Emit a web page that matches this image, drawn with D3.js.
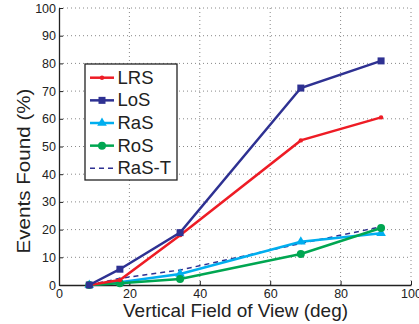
<!DOCTYPE html>
<html><head><meta charset="utf-8">
<script src="https://cdn.jsdelivr.net/npm/d3@7"></script>
<style>body{margin:0;background:#fff}svg{display:block}text{font-family:"Liberation Sans",Arial,sans-serif}</style>
</head><body><svg id="c" width="419" height="324"></svg>
<script>
const fov = [8.6, 17.3, 34.4, 68.7, 91.5];
const LRS = [0, 1.8, 18.0, 52.2, 60.5];
const LoS = [0, 5.7, 18.9, 71.1, 80.9];
const RaS = [0, 1.0, 4.0, 15.6, 18.7];
const RoS = [0, 0.6, 2.2, 11.2, 20.6];
const RaST = [0, 2.4, 5.4, 15.0, 21.0];
const xTicks = [0, 20, 40, 60, 80, 100];
const yTicks = [0, 10, 20, 30, 40, 50, 60, 70, 80, 90, 100];
const series = [
  {name: "LRS", vals: LRS, color: "#ee1c25", marker: "dot"},
  {name: "LoS", vals: LoS, color: "#2e3192", marker: "square"},
  {name: "RaS", vals: RaS, color: "#00aeef", marker: "triangle"},
  {name: "RoS", vals: RoS, color: "#00a651", marker: "circle"},
  {name: "RaS-T", vals: RaST, color: "#2e3192", marker: "none", dash: "5,4"}
];
const svg = d3.select("#c");
const L = 59, R = 411, T = 8, B = 285;
const x = d3.scaleLinear().domain([0, 100]).range([L, R]);
const y = d3.scaleLinear().domain([0, 100]).range([B, T]);

// grid
const g = svg.append("g");
xTicks.slice(1).forEach(t => g.append("line").attr("x1", x(t)).attr("x2", x(t)).attr("y1", B).attr("y2", T)
  .attr("stroke", "#888").attr("stroke-width", 1).attr("stroke-dasharray", "1,3"));
yTicks.slice(1).forEach(t => g.append("line").attr("x1", L).attr("x2", R).attr("y1", y(t)).attr("y2", y(t))
  .attr("stroke", "#888").attr("stroke-width", 1).attr("stroke-dasharray", "1,3"));

// axes
const xa = svg.append("g").attr("transform", `translate(0,${B})`)
  .call(d3.axisBottom(x).tickValues(xTicks).tickSizeInner(-4).tickSizeOuter(0).tickPadding(4));
const ya = svg.append("g").attr("transform", `translate(${L},0)`)
  .call(d3.axisLeft(y).tickValues(yTicks).tickSizeInner(-4).tickSizeOuter(0).tickPadding(3));
[xa, ya].forEach(a => {
  a.select(".domain").attr("stroke", "#222").attr("stroke-width", 1.3);
  a.selectAll(".tick line").attr("stroke", "#222");
  a.selectAll("text").attr("font-size", 12.5).attr("fill", "#222");
});
xa.selectAll("text").attr("y", 13).attr("dy", 0);
ya.selectAll("text").attr("x", -3);

// lines
const line = d3.line().x((d, i) => x(fov[i])).y(d => y(d));
function drawMarker(sel, m, cx, cy, color) {
  if (m === "dot") sel.append("circle").attr("cx", cx).attr("cy", cy).attr("r", 2.2).attr("fill", color);
  else if (m === "circle") sel.append("circle").attr("cx", cx).attr("cy", cy).attr("r", 4).attr("fill", color);
  else if (m === "square") sel.append("rect").attr("x", cx - 3.5).attr("y", cy - 3.5).attr("width", 7).attr("height", 7).attr("fill", color);
  else if (m === "triangle") sel.append("path").attr("d", d3.symbol().type(d3.symbolTriangle).size(40)()).attr("transform", `translate(${cx},${cy})`).attr("fill", color);
}
const order = [4, 2, 3, 0, 1];
order.forEach(k => {
  const s = series[k];
  const gg = svg.append("g");
  gg.append("path").datum(s.vals).attr("d", line).attr("fill", "none").attr("stroke", s.color)
    .attr("stroke-width", s.dash ? 1.5 : 2.5).attr("stroke-dasharray", s.dash || null);
  s.vals.forEach((v, i) => drawMarker(gg, s.marker, x(fov[i]), y(v), s.color));
});

// legend
const lg = svg.append("g");
lg.append("rect").attr("x", 85).attr("y", 64).attr("width", 92).attr("height", 116)
  .attr("fill", "#fff").attr("stroke", "#222").attr("stroke-width", 1.3);
series.forEach((s, i) => {
  const cy = 77.7 + i * 22.65;
  lg.append("line").attr("x1", 90).attr("x2", 114).attr("y1", cy).attr("y2", cy).attr("stroke", s.color)
    .attr("stroke-width", s.dash ? 1.5 : 2.5).attr("stroke-dasharray", s.dash || null);
  drawMarker(lg, s.marker, 102, cy, s.color);
  lg.append("text").attr("x", 117.5).attr("y", cy + 6).attr("font-size", 18.5).attr("fill", "#222").text(s.name);
});

// titles
svg.append("text").attr("x", 235.5).attr("y", 317).attr("text-anchor", "middle")
  .attr("font-size", 18.5).attr("fill", "#222").attr("textLength", 225).attr("lengthAdjust", "spacingAndGlyphs")
  .text("Vertical Field of View (deg)");
svg.append("text").attr("transform", `translate(29.5,171) rotate(-90)`).attr("text-anchor", "middle")
  .attr("font-size", 18.5).attr("fill", "#222").attr("textLength", 165).attr("lengthAdjust", "spacingAndGlyphs")
  .text("Events Found (%)");
</script></body></html>
